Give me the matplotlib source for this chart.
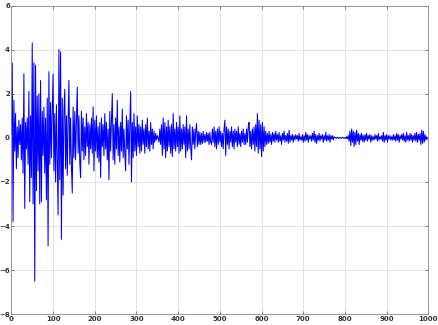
import numpy as np
import matplotlib.pyplot as plt

# sample index (every 2nd sample) and signal values
x = np.arange(0, 1000, 2)
y = np.array([
    0.2, 3.4, -3.8, 1.7, -0.6, 1.1, -1.4, 0.5, -0.9, 0.8, -0.3, 0.6, -1.0, 0.9, -1.6, 2.9, -3.2, 0.7, -0.5, 0.9,
    -1.2, 2.1, -2.9, 1.0, -1.8, 4.3, -3.0, 3.4, -6.5, 3.3, -2.4, 1.9, -1.5, 2.0, -3.0, 2.6, -2.9, 1.2, -0.8, 1.4,
    -1.6, 0.9, -2.8, 1.8, -4.9, 3.0, -1.2, 1.6, -0.9, 1.3, 2.9, -1.5, 1.1, -2.0, 1.5, -1.1, -3.5, 4.0, -1.9, 3.9,
    -4.6, 1.8, -2.6, 1.2, 2.2, -1.4, 1.0, -1.7, 0.8, 2.6, -1.2, 0.9, -1.3, -2.5, 1.4, -0.9, 1.2, -1.0, 0.8, 2.3,
    -0.7, 1.0, -1.1, -1.8, 1.2, -0.6, 0.9, -1.0, 0.5, -0.8, 1.1, -0.4, 0.7, -1.2, 0.6, -0.5, 0.9, -0.7, 1.4, -1.5,
    0.8, -0.6, 1.0, -0.9, 0.5, -1.1, 0.7, -1.8, 0.9, -0.4, 0.6, -0.8, 1.1, -0.5, 0.7, -1.0, 0.4, -1.9, 1.2, -0.6,
    0.8, 2.0, -1.0, 0.6, -1.2, 0.9, -0.5, 1.7, -0.8, 0.5, -1.1, 0.7, -0.6, 1.3, -0.9, 0.4, -0.7, -1.5, 1.0, -0.5,
    0.8, -1.2, 0.6, 2.1, -2.0, 0.7, -0.9, 1.1, -0.6, 0.5, -0.8, 1.0, -0.4, 0.6, -0.7, 0.5, -0.6, 0.8, -0.3, 0.4,
    -0.7, 0.6, -0.4, 0.9, -0.5, 0.3, -0.6, 0.7, -0.3, 0.4, -0.5, 0.3, -0.2, 0.2, -0.1, 0.1, 0.0, -0.2, 0.4, -0.3,
    0.6, -0.8, 0.9, -0.5, 0.7, -0.9, 0.5, -0.6, 0.8, -0.4, 0.5, -0.7, 0.6, -0.85, 1.1, -0.5, 0.4, -0.6, 0.7, -0.4,
    0.5, -0.7, 1.0, -0.6, 0.4, -0.5, 0.6, -0.3, 0.5, -0.9, 1.0, -0.6, 0.4, -0.5, 0.6, -0.4, -1.0, 0.5, -0.3, 0.4,
    -0.5, 0.3, 0.65, -0.4, 0.3, -0.3, 0.25, -0.3, 0.2, -0.25, 0.3, -0.2, 0.15, -0.2, 0.25, -0.15, 0.2, -0.3, 0.25, -0.2,
    -0.3, 0.4, -0.2, 0.5, -0.4, 0.3, -0.5, 0.4, -0.3, 0.5, -0.2, 0.3, -0.4, 0.2, -0.5, 0.4, 0.8, -0.8, 0.5, -0.3,
    0.4, -0.5, 0.3, -0.2, 0.5, -0.4, 0.3, -0.5, 0.4, -0.2, 0.3, -0.4, 0.5, -0.3, 0.2, -0.4, 0.3, -0.2, 0.4, -0.3,
    0.2, -0.3, 0.4, -0.2, 0.5, 0.7, -0.4, 0.3, -0.5, 0.4, -0.3, 0.5, -0.6, 0.6, -0.4, 1.1, -0.7, 0.8, -0.5, 0.6,
    -0.85, 0.7, -0.6, 0.5, -0.4, 0.3, -0.3, 0.2, -0.25, 0.3, -0.2, 0.15, -0.3, 0.25, -0.15, 0.2, -0.2, 0.3, -0.1, 0.15,
    -0.2, 0.25, -0.15, 0.1, -0.3, 0.2, -0.1, 0.3, -0.2, 0.1, -0.15, 0.2, -0.25, 0.35, -0.2, 0.1, -0.1, 0.15, -0.2, 0.1,
    -0.1, 0.15, -0.05, 0.1, -0.15, 0.2, -0.1, 0.05, -0.1, 0.15, -0.2, 0.1, -0.15, 0.25, -0.1, 0.15, -0.2, 0.1, -0.05, 0.1,
    -0.15, 0.2, -0.1, 0.3, -0.2, 0.15, -0.25, 0.1, -0.1, 0.2, -0.15, 0.1, -0.05, 0.15, -0.2, 0.1, -0.1, 0.25, -0.15, 0.1,
    -0.1, 0.15, -0.2, 0.1, -0.05, 0.1, -0.1, 0.05, 0.0, 0.02, -0.02, 0.03, 0.0, -0.03, 0.02, 0.0, -0.02, 0.03, 0.0, -0.02,
    0.02, -0.03, 0.05, -0.05, 0.1, -0.15, 0.3, -0.35, 0.4, -0.2, 0.3, -0.4, 0.25, -0.3, 0.35, -0.15, 0.2, -0.3, 0.15, -0.1,
    0.2, -0.15, 0.1, -0.2, 0.15, -0.1, 0.2, -0.15, 0.1, -0.05, 0.15, -0.2, 0.1, -0.1, 0.05, -0.1, 0.15, -0.05, 0.1, -0.15,
    0.2, -0.1, 0.05, -0.05, 0.1, -0.15, 0.25, -0.2, 0.1, -0.1, 0.15, -0.2, 0.1, -0.05, 0.1, -0.1, 0.05, -0.1, 0.15, -0.1,
    0.1, -0.15, 0.2, -0.1, 0.15, -0.2, 0.1, -0.05, 0.15, -0.1, 0.2, -0.15, 0.1, -0.2, 0.25, -0.1, 0.1, -0.15, 0.2, -0.1,
    0.15, -0.2, 0.1, -0.1, 0.2, -0.15, 0.25, -0.2, 0.15, -0.1, 0.2, -0.3, 0.35, -0.25, 0.3, -0.2, 0.15, -0.1, 0.05, -0.05,
])

xticks = [0, 100, 200, 300, 400, 500, 600, 700, 800, 900, 1000]
yticks = [-8, -6, -4, -2, 0, 2, 4, 6]

fig = plt.figure(figsize=(4.38, 3.25), dpi=100)
ax = fig.add_axes([0.026, 0.033, 0.952, 0.95])

ax.plot(x, y, color=(0, 0, 1), linewidth=0.75)

ax.set_xlim(0, 1000)
ax.set_ylim(-8, 6)
ax.set_xticks(xticks)
ax.set_yticks(yticks)
ax.grid(True, color='#e3e3e3', linewidth=0.7)
ax.set_axisbelow(True)
ax.tick_params(direction='in', length=2.5, width=0.5, colors='#555555',
               labelsize=5, pad=1, top=True, right=True)
for lab in ax.get_xticklabels() + ax.get_yticklabels():
    lab.set_fontweight('bold')
    lab.set_color('#333333')
for s in ax.spines.values():
    s.set_color('#888888')
    s.set_linewidth(0.6)

fig.savefig('out.png', dpi=100)
